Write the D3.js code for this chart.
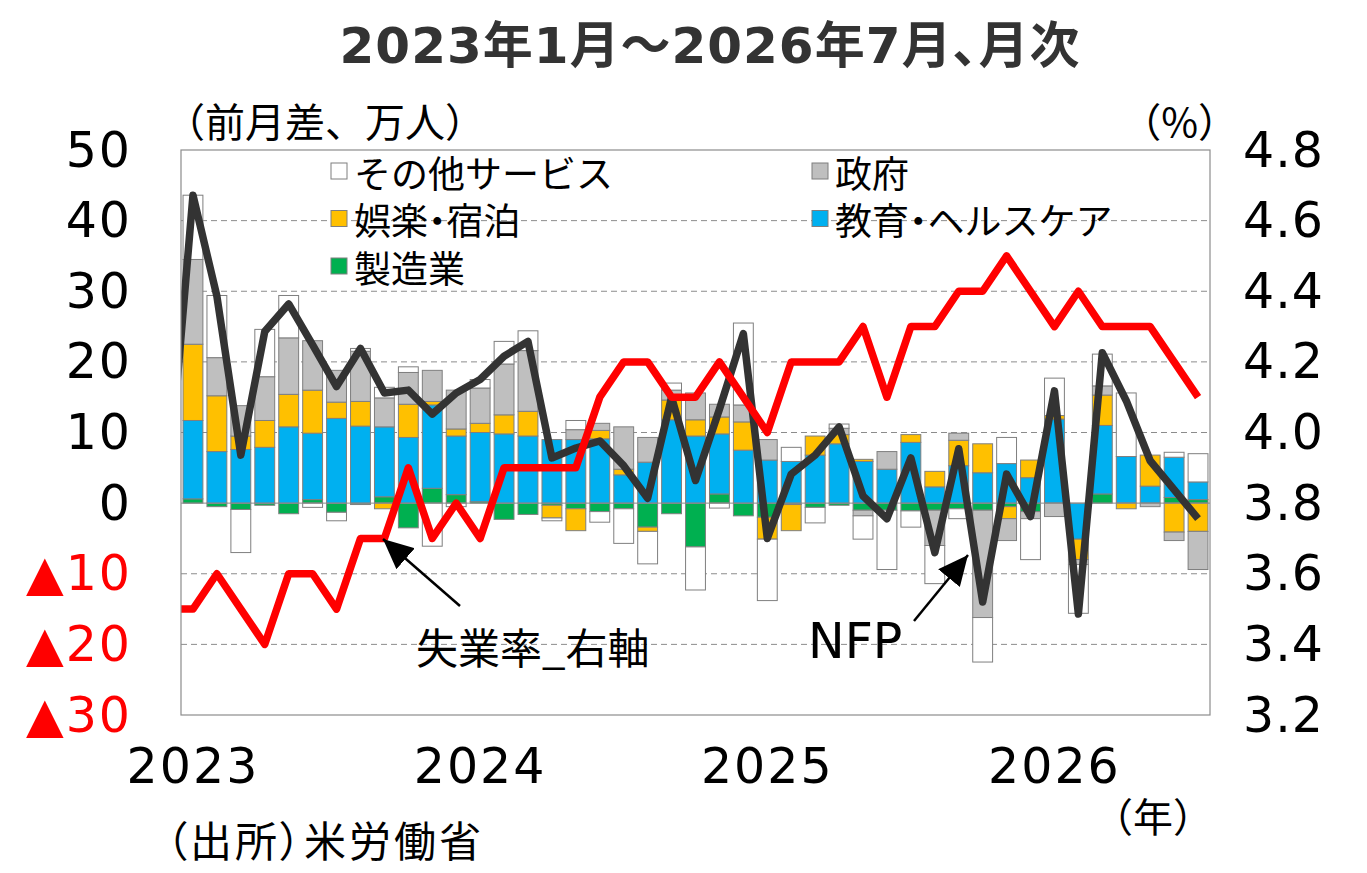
<!DOCTYPE html>
<html><head><meta charset="utf-8">
<script src="https://cdn.jsdelivr.net/npm/d3@7/dist/d3.min.js"></script>
<style>
html,body{margin:0;padding:0;background:#fff;}
svg text{font-family:"Noto Sans CJK JP","Noto Sans",sans-serif;}
svg text.num{font-family:"DejaVu Sans","Noto Sans CJK JP",sans-serif;}
.palt{font-feature-settings:"palt" 1;}
</style></head>
<body><svg id="c" width="1367" height="873"></svg>
<script>
// ---- data ----
const categories = ["2023-01","2023-02","2023-03","2023-04","2023-05","2023-06","2023-07","2023-08","2023-09","2023-10","2023-11","2023-12",
"2024-01","2024-02","2024-03","2024-04","2024-05","2024-06","2024-07","2024-08","2024-09","2024-10","2024-11","2024-12",
"2025-01","2025-02","2025-03","2025-04","2025-05","2025-06","2025-07","2025-08","2025-09","2025-10","2025-11","2025-12",
"2026-01","2026-02","2026-03","2026-04","2026-05","2026-06","2026-07"];
const manufacturing = [0.6,-0.5,-0.9,-0.3,-1.5,0.5,-1.3,-0.2,0.9,-3.5,2.1,1.2,0.2,-2.3,-1.6,-0.3,-0.8,-1.2,-0.8,-3.4,-1.5,-6.2,1.3,-1.8,-2.0,-0.2,-0.6,-0.3,-1.0,-1.0,-1.1,-1.0,-0.8,-1.0,-0.5,-1.2,0,0,1.3,0,0,0.8,0.5];
const eduHealth = [11.1,7.3,7.6,7.9,10.8,9.4,12.0,10.9,9.9,9.3,11.8,8.3,9.8,9.8,9.5,9.0,9.0,9.1,4.0,5.8,11.8,9.5,8.5,7.5,6.1,5.9,6.8,8.4,5.9,4.8,8.6,2.3,5.3,4.3,5.6,3.6,11.9,-5.1,9.7,6.6,2.4,5.7,2.5];
const leisure = [10.8,7.9,1.9,3.8,4.6,6.1,2.3,3.5,-0.8,4.7,0.5,1.0,1.3,2.7,3.5,-1.8,-3.1,1.2,0.8,-0.6,2.8,2.3,2.4,4.0,-3.1,-3.7,2.7,1.3,0.3,0,1.1,2.2,3.6,4.1,-1.7,2.5,0.5,-2.9,4.3,-0.8,4.4,-4.1,-4.0];
const government = [12.0,5.4,4.3,6.2,8.0,7.0,4.5,7.1,4.1,4.5,4.4,5.5,5.0,7.2,8.6,0,1.4,1.0,6.0,3.5,1.4,3.8,1.8,2.4,2.9,0,0,0.9,-0.8,2.5,0,-5.0,1.0,-15.2,-3.1,-1.0,-1.9,-0.7,1.3,0,-0.5,-1.2,-5.4];
const otherServices = [9.1,8.8,-6.1,6.7,6.0,-0.6,-1.2,0.4,1.5,0.8,-6.1,-0.5,1.2,3.2,2.8,-0.4,1.3,-1.5,-4.9,-4.6,1.0,-6.1,-0.7,11.6,-8.7,2.0,-2.2,0.6,-3.3,-8.4,-2.3,-5.4,-1.4,-6.3,3.7,-5.8,5.3,-6.9,4.5,9.0,0,0.7,4.0];
const nfp = [43.6,29.3,6.8,24.3,28.2,22.4,16.5,21.9,15.6,16.0,12.6,15.6,17.5,20.8,22.9,6.4,7.8,8.8,5.3,0.7,15.0,3.2,13.3,24.0,-5.0,4.1,6.8,10.8,1.0,-2.2,6.4,-7.0,7.7,-14.0,4.1,-1.9,15.9,-15.7,21.3,14.5,6.0,1.9,-2.2];
const unemployment = [3.5,3.6,3.5,3.4,3.6,3.6,3.5,3.7,3.7,3.9,3.7,3.8,3.7,3.9,3.9,3.9,3.9,4.1,4.2,4.2,4.1,4.1,4.2,4.1,4.0,4.2,4.2,4.2,4.3,4.1,4.3,4.3,4.4,4.4,4.5,4.4,4.3,4.4,4.3,4.3,4.3,4.2,4.1];
const nfpPrev = 3.5;          // Dec 2022 (line enters from left edge)
const unemploymentPrev = 3.5; // Dec 2022
const leftTicks = [50,40,30,20,10,0,-10,-20,-30];
const leftTickLabels = ["50","40","30","20","10","0","▲10","▲20","▲30"];
const rightTicks = [4.8,4.6,4.4,4.2,4.0,3.8,3.6,3.4,3.2];
const rightTickLabels = ["4.8","4.6","4.4","4.2","4.0","3.8","3.6","3.4","3.2"];
const yearLabels = ["2023","2024","2025","2026"];
const yearCategories = ["2023-01","2024-01","2025-01","2026-01"];
const seriesNames = ["製造業","教育・ヘルスケア","娯楽・宿泊","政府","その他サービス"];
const seriesColors = ["#00B050","#00B0F0","#FFC000","#BFBFBF","#FFFFFF"];
const seriesData = [manufacturing, eduHealth, leisure, government, otherServices];

// ---- layout ----
const svg = d3.select("#c");
const L = 181, R = 1210, T = 150, B = 715;
const x = d3.scaleBand().domain(categories).range([L, R]).paddingInner(0.17).paddingOuter(0.085);
const yL = d3.scaleLinear().domain([-30, 50]).range([B, T]);
const yR = d3.scaleLinear().domain([3.2, 4.8]).range([B, T]);
const cx = c => x(c) + x.bandwidth() / 2;

// title
svg.append("text").attr("class", "num palt").attr("x", 710).attr("y", 46).attr("text-anchor", "middle").attr("dominant-baseline", "central")
  .attr("font-size", 50).attr("letter-spacing", 1).attr("font-weight", "bold").attr("fill", "#333").text("2023年1月～2026年7月、月次");

// grid
const g = svg.append("g");
g.selectAll("line.grid").data(leftTicks.filter(v => v !== 50 && v !== -30 && v !== 0)).join("line")
  .attr("x1", L).attr("x2", R).attr("y1", d => yL(d)).attr("y2", d => yL(d))
  .attr("stroke", "#8c8c8c").attr("stroke-width", 1).attr("stroke-dasharray", "6,4");

// stacked bars
const rows = categories.map((c, i) => {
  const o = { cat: c };
  seriesNames.forEach((s, k) => o[s] = seriesData[k][i]);
  return o;
});
const stack = d3.stack().keys(seriesNames).offset(d3.stackOffsetDiverging)(rows);
stack.forEach((layer, k) => {
  g.append("g").selectAll("rect").data(layer).join("rect")
    .attr("x", d => x(d.data.cat)).attr("width", x.bandwidth())
    .attr("y", d => yL(Math.max(d[0], d[1])))
    .attr("height", d => Math.abs(yL(d[0]) - yL(d[1])))
    .attr("fill", seriesColors[k])
    .attr("stroke", d => Math.abs(d[1] - d[0]) > 0 ? "#7f7f7f" : "none").attr("stroke-width", 1);
});
// zero line
g.append("line").attr("x1", L).attr("x2", R).attr("y1", yL(0)).attr("y2", yL(0)).attr("stroke", "#8c8c8c").attr("stroke-width", 1);

// clip for lines
svg.append("clipPath").attr("id", "clip").append("rect").attr("x", L).attr("y", T - 20).attr("width", R - L).attr("height", B - T + 40);
const step = x.step();
const nfpPts = [[cx(categories[0]) - step, nfpPrev]].concat(nfp.map((v, i) => [cx(categories[i]), v]));
const unPts = [[cx(categories[0]) - step, unemploymentPrev]].concat(unemployment.map((v, i) => [cx(categories[i]), v]));
const lineL = d3.line().x(d => d[0]).y(d => yL(d[1]));
const lineR = d3.line().x(d => d[0]).y(d => yR(d[1]));
const lg = svg.append("g").attr("clip-path", "url(#clip)");
lg.append("path").attr("d", lineL(nfpPts)).attr("fill", "none").attr("stroke", "#333333").attr("stroke-width", 7.5).attr("stroke-linejoin", "round");
lg.append("path").attr("d", lineR(unPts)).attr("fill", "none").attr("stroke", "#FF0000").attr("stroke-width", 7.5).attr("stroke-linejoin", "round");

// plot border
svg.append("rect").attr("x", L).attr("y", T).attr("width", R - L).attr("height", B - T).attr("fill", "none").attr("stroke", "#8c8c8c").attr("stroke-width", 1.2);

// left axis labels
svg.append("g").selectAll("text").data(leftTicks).join("text").attr("class", "num")
  .attr("x", 132).attr("y", d => yL(d)).attr("text-anchor", "end").attr("dominant-baseline", "central")
  .attr("font-size", 49).attr("letter-spacing", 2).attr("fill", d => d < 0 ? "#FF0000" : "#000")
  .text((d, i) => leftTickLabels[i]);
// right axis labels
svg.append("g").selectAll("text").data(rightTicks).join("text").attr("class", "num")
  .attr("x", 1243).attr("y", d => yR(d)).attr("text-anchor", "start").attr("dominant-baseline", "central")
  .attr("font-size", 49).attr("letter-spacing", 1).attr("fill", "#000")
  .text((d, i) => rightTickLabels[i]);
// year labels
svg.append("g").selectAll("text").data(yearCategories).join("text").attr("class", "num")
  .attr("x", d => cx(d)).attr("y", 766).attr("text-anchor", "middle").attr("dominant-baseline", "central")
  .attr("font-size", 49).attr("letter-spacing", 2).attr("fill", "#000").text((d, i) => yearLabels[i]);

// axis titles & notes
const txt = (t, xx, yy, size, anchor, cls) => svg.append("text").attr("class", cls || null).attr("x", xx).attr("y", yy)
  .attr("text-anchor", anchor || "start").attr("dominant-baseline", "central")
  .attr("font-size", size).attr("fill", "#000").text(t);
txt("（前月差、万人）", 165, 120, 40);
txt("（%）", 1238, 120, 40, "end");
txt("（年）", 1213, 815, 40, "end");
txt("（出所）米労働省", 166, 838, 42, "start", "palt").attr("letter-spacing", 3);

// legend
const legendItems = [
  {name: "その他サービス", color: "#FFFFFF", x: 331, y: 171.5},
  {name: "政府", color: "#BFBFBF", x: 812, y: 171.5},
  {name: "娯楽・宿泊", color: "#FFC000", x: 331, y: 219},
  {name: "教育・ヘルスケア", color: "#00B0F0", x: 812, y: 219},
  {name: "製造業", color: "#00B050", x: 331, y: 266.5}
];
const lgd = svg.append("g");
legendItems.forEach(it => {
  lgd.append("rect").attr("x", it.x).attr("y", it.y - 8.5).attr("width", 16).attr("height", 16)
    .attr("fill", it.color).attr("stroke", "#7f7f7f").attr("stroke-width", 1);
  const t = lgd.append("text").attr("x", it.x + 23).attr("y", it.y).attr("dominant-baseline", "central")
    .attr("font-size", 37).attr("fill", "#000");
  it.name.split(/(・)/).forEach(part => {
    t.append("tspan").attr("class", part === "・" ? "palt" : null).text(part);
  });
});

// annotations
const defs = svg.append("defs");
defs.append("marker").attr("id", "ah").attr("markerUnits", "userSpaceOnUse")
  .attr("markerWidth", 34).attr("markerHeight", 30).attr("refX", 30).attr("refY", 14)
  .attr("orient", "auto").append("path").attr("d", "M0,0 L30,14 L0,28 Z").attr("fill", "#000");
svg.append("line").attr("x1", 460).attr("y1", 606).attr("x2", 383).attr("y2", 539)
  .attr("stroke", "#000").attr("stroke-width", 2.5).attr("marker-end", "url(#ah)");
svg.append("line").attr("x1", 914).attr("y1", 621).attr("x2", 968).attr("y2", 555)
  .attr("stroke", "#000").attr("stroke-width", 2.5).attr("marker-end", "url(#ah)");
txt("失業率_右軸", 416, 645, 42);
txt("NFP", 808, 641, 49, "start", "num");
</script></body></html>
